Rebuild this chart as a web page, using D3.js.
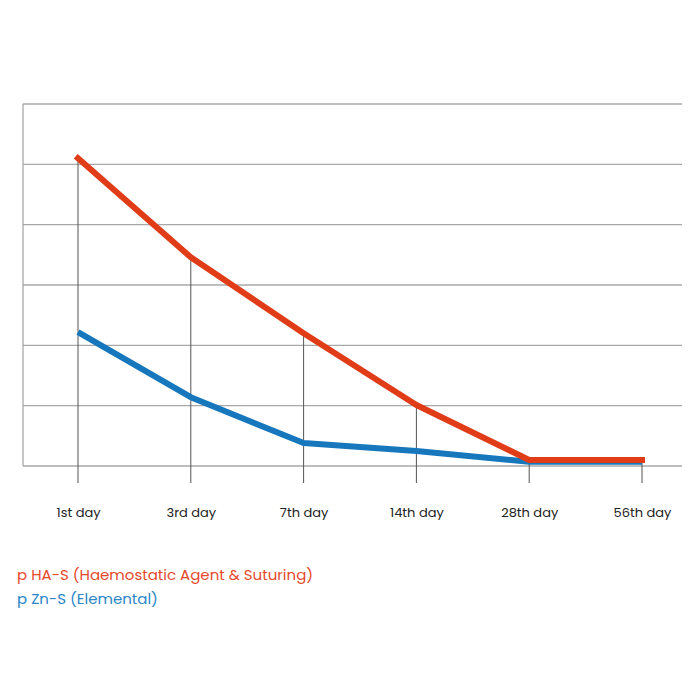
<!DOCTYPE html>
<html>
<head>
<meta charset="utf-8">
<script src="https://cdn.jsdelivr.net/npm/d3@7"></script>
<style>
  html, body { margin: 0; padding: 0; background: #fff; }
  svg { display: block; }
</style>
</head>
<body>
<svg id="chart" width="700" height="700"></svg>
<script>
const categories = ["1st day", "3rd day", "7th day", "14th day", "28th day", "56th day"];
const seriesNames = ["p HA-S (Haemostatic Agent & Suturing)", "p Zn-S (Elemental)"];
const haValues = [5.10, 3.46, 2.20, 1.01, 0.10, 0.10];
const znValues = [2.22, 1.14, 0.38, 0.25, 0.07, 0.07];
const yTicks = [0, 1, 2, 3, 4, 5, 6];

(function () {
const svg = d3.select("#chart");
const pLeft = 23, pRight = 682, pTop = 104, pBottom = 466;

const x = d3.scalePoint().domain(categories).range([78, 642]);
const y = d3.scaleLinear().domain([0, 6]).range([pBottom, pTop]);

// horizontal gridlines
svg.append("g").selectAll("line").data(yTicks).join("line")
  .attr("x1", pLeft).attr("x2", pRight)
  .attr("y1", d => y(d)).attr("y2", d => y(d))
  .attr("stroke", "#a8a8a8").attr("stroke-width", 1.3);

// left axis line
svg.append("line")
  .attr("x1", pLeft).attr("x2", pLeft).attr("y1", pTop).attr("y2", pBottom)
  .attr("stroke", "#a8a8a8").attr("stroke-width", 1.3);

// drop lines
svg.append("g").selectAll("line").data(categories).join("line")
  .attr("x1", d => x(d)).attr("x2", d => x(d))
  .attr("y1", (d, i) => y(haValues[i])).attr("y2", pBottom + 17)
  .attr("stroke", "#555").attr("stroke-width", 1);

// x labels
const xAxis = d3.axisBottom(x).tickSize(0).tickPadding(0);
const gx = svg.append("g").attr("transform", `translate(0,${pBottom + 47})`).call(xAxis);
gx.select(".domain").remove();
gx.selectAll("text")
  .attr("font-family", "Poppins, 'Open Sans', sans-serif")
  .attr("font-size", 13).attr("fill", "#222").attr("dy", "0.32em");

const line = d3.line().x((d, i) => x(categories[i])).y(d => y(d));

svg.append("path").datum(znValues)
  .attr("d", line).attr("fill", "none")
  .attr("stroke", "#1777bd").attr("stroke-width", 6).attr("stroke-linejoin", "round");

svg.append("path").datum(haValues)
  .attr("d", line).attr("fill", "none")
  .attr("stroke", "#e03c18").attr("stroke-width", 6).attr("stroke-linejoin", "round")
  .attr("stroke-linecap", "square");

// legend
const legendColors = ["#e5492c", "#2a86c8"];
svg.append("g").selectAll("text").data(seriesNames).join("text")
  .attr("x", 17).attr("y", (d, i) => 580 + i * 24)
  .attr("font-family", "Poppins, 'Open Sans', sans-serif")
  .attr("font-size", 15)
  .attr("fill", (d, i) => legendColors[i])
  .text(d => d);
})();
</script>
</body>
</html>
